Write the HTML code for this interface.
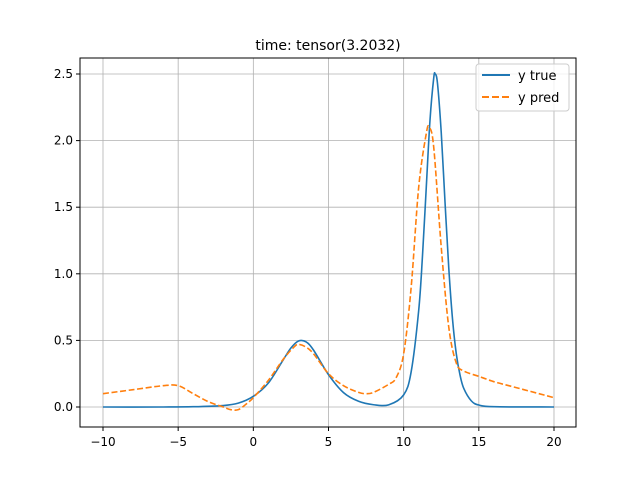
<!DOCTYPE html>
<html><head><meta charset="utf-8"><style>
body{margin:0;background:#fff;font-family:"Liberation Sans","DejaVu Sans",sans-serif}
svg text{font-family:"DejaVu Sans","Liberation Sans",sans-serif}
</style></head><body>
<svg id="chart" width="640" height="480">
<rect width="640" height="480" fill="#fff"/>
<text x="328" y="50" font-size="14" text-anchor="middle">time: tensor(3.2032)</text>
<g id="grid"></g><g id="ticks"></g><g id="series"></g>
<rect x="80" y="58" width="496" height="369" fill="none" stroke="#000" stroke-width="1"/>
<g>
<rect x="476" y="64" width="93" height="47" rx="3" fill="#fff" fill-opacity="0.8" stroke="#ccc"/>
<line x1="482" y1="75" x2="510" y2="75" stroke="#1f77b4" stroke-width="2"/>
<text x="518" y="80" font-size="13">y true</text>
<line x1="482" y1="97" x2="510" y2="97" stroke="#ff7f0e" stroke-width="2" stroke-dasharray="7,3"/>
<text x="518" y="102" font-size="13">y pred</text>
</g>
</svg>
<script>
const xTicks=[-10,-5,0,5,10,15,20];
const yTicks=[0.0,0.5,1.0,1.5,2.0,2.5];
const yTickLabels=["0.0","0.5","1.0","1.5","2.0","2.5"];
const trueX=[-10,-6,-4,-2,-1,0,1,2,2.5,3,3.5,4,5,6,7,8,9,10,10.5,11,11.25,11.5,11.75,12,12.1,12.25,12.5,12.75,13,13.25,13.5,13.75,14,14.5,15,16,20];
const trueY=[0,0,0.002,0.011,0.029,0.08,0.18,0.356,0.443,0.495,0.489,0.428,0.243,0.108,0.043,0.017,0.016,0.091,0.265,0.725,1.13,1.64,2.15,2.47,2.5,2.43,2.06,1.54,1.045,0.66,0.40,0.24,0.139,0.046,0.015,0.002,0];
const predX=[-10,-8,-6,-5,-4,-3,-2,-1.5,-1,-0.5,0,1,2,2.7,3,3.5,4,5,6,7,7.5,8,9,9.5,10,10.5,11,11.5,11.7,12,12.5,13,13.5,14,15,16,17,18,19,20];
const predY=[0.1,0.13,0.16,0.16,0.1,0.04,0.0,-0.02,-0.02,0.02,0.07,0.2,0.36,0.45,0.47,0.45,0.4,0.25,0.16,0.11,0.1,0.11,0.17,0.22,0.4,0.9,1.65,2.05,2.1,1.95,1.2,0.6,0.33,0.27,0.23,0.19,0.16,0.13,0.1,0.07];
const X=v=>103+(v+10)*15.033, Y=v=>407-v*133.2;
const NS="http://www.w3.org/2000/svg";
function mk(t,a,p){const e=document.createElementNS(NS,t);for(const k in a)e.setAttribute(k,a[k]);document.getElementById(p).appendChild(e);return e;}
xTicks.forEach(t=>{
 const g=mk("line",{x1:X(t),x2:X(t),y1:58,y2:427,stroke:"#b0b0b0","stroke-width":0.8},"grid");
 
 
 mk("line",{x1:X(t),x2:X(t),y1:427,y2:431,stroke:"#000"},"ticks");
 const l=mk("text",{x:X(t),y:446,"font-size":12,"text-anchor":"middle"},"ticks");
 l.textContent=(t<0?"\u2212"+(-t):t);
 
 
});
yTicks.forEach((t,i)=>{
 const g=mk("line",{x1:80,x2:576,y1:Y(t),y2:Y(t),stroke:"#b0b0b0","stroke-width":0.8},"grid");
 
 
 mk("line",{x1:76,x2:80,y1:Y(t),y2:Y(t),stroke:"#000"},"ticks");
 const l=mk("text",{x:73,y:Y(t)+4,"font-size":12,"text-anchor":"end"},"ticks");
 l.textContent=yTickLabels[i];
 
 
});
function path(xs,ys){
 const p=xs.map((x,i)=>[X(x),Y(ys[i])]);let d="M"+p[0][0]+","+p[0][1];
 for(let i=0;i<p.length-1;i++){const p0=p[i-1]||p[i],p1=p[i],p2=p[i+1],p3=p[i+2]||p2;
  d+=` C${p1[0]+(p2[0]-p0[0])/6},${p1[1]+(p2[1]-p0[1])/6} ${p2[0]-(p3[0]-p1[0])/6},${p2[1]-(p3[1]-p1[1])/6} ${p2[0]},${p2[1]}`;}
 return d;}
const a=mk("path",{d:path(trueX,trueY),fill:"none",stroke:"#1f77b4","stroke-width":1.6},"series");


const b=mk("path",{d:path(predX,predY),fill:"none",stroke:"#ff7f0e","stroke-width":1.6,"stroke-dasharray":"6,2.6"},"series");


</script>
</body></html>
